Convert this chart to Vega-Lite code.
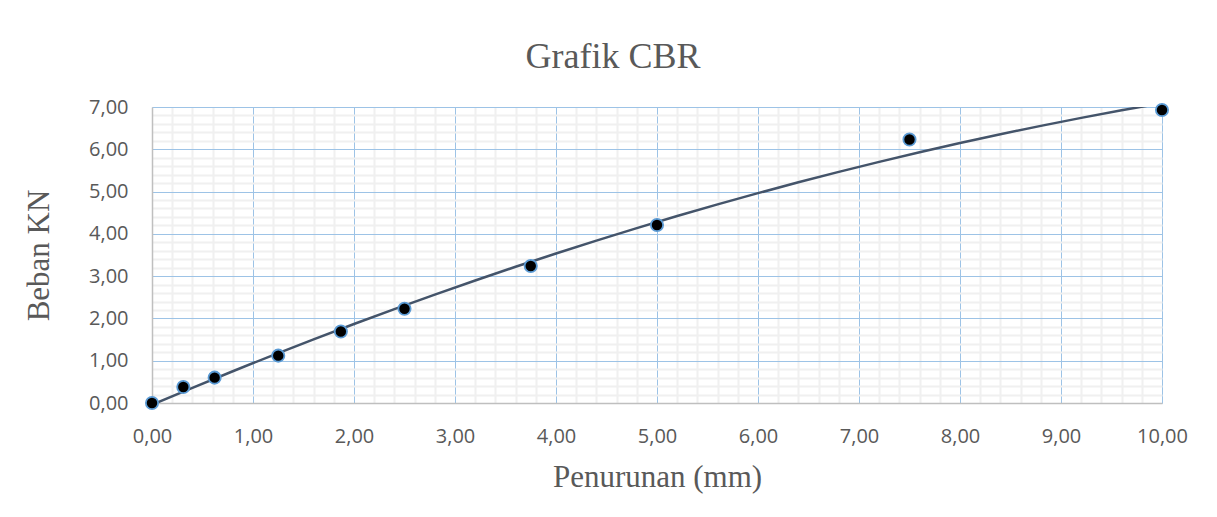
{
  "$schema": "https://vega.github.io/schema/vega-lite/v6.json",
  "width": 1010,
  "height": 296,
  "autosize": "none",
  "padding": {"left": 152, "top": 107, "right": 55, "bottom": 114},
  "background": "white",
  "config": {
    "view": {"stroke": null},
    "axis": {"labelFont": "Open Sans", "labelFontSize": 20, "labelColor": "#595959", "titleFont": "Liberation Serif", "titleFontSize": 31, "titleFontWeight": "normal", "titleColor": "#595959", "ticks": false, "domainColor": "#BFBFBF", "domainWidth": 1.5}
  },
  "title": {"text": "Grafik CBR", "font": "Liberation Serif", "fontSize": 36, "fontWeight": "normal", "color": "#595959", "anchor": "middle", "frame": "group", "dx": -44, "baseline": "alphabetic", "offset": -7},
  "data": {"values": [
    {"Penurunan": 0.0, "Beban": 0.0},
    {"Penurunan": 0.31, "Beban": 0.38},
    {"Penurunan": 0.62, "Beban": 0.6},
    {"Penurunan": 1.25, "Beban": 1.12},
    {"Penurunan": 1.87, "Beban": 1.69},
    {"Penurunan": 2.5, "Beban": 2.23},
    {"Penurunan": 3.75, "Beban": 3.24},
    {"Penurunan": 5.0, "Beban": 4.21},
    {"Penurunan": 7.5, "Beban": 6.23},
    {"Penurunan": 10.0, "Beban": 6.93}
  ]},
  "encoding": {
    "x": {"field": "Penurunan", "type": "quantitative",
      "scale": {"domain": [0, 10], "nice": false, "zero": false},
      "axis": {"title": "Penurunan (mm)", "titleY": 83, "titleBaseline": "alphabetic",
        "labelBaseline": "alphabetic", "labelPadding": 39, "labelFlush": false,
        "values": [0,0.2,0.4,0.6,0.8,1,1.2,1.4,1.6,1.8,2,2.2,2.4,2.6,2.8,3,3.2,3.4,3.6,3.8,4,4.2,4.4,4.6,4.8,5,5.2,5.4,5.6,5.8,6,6.2,6.4,6.6,6.8,7,7.2,7.4,7.6,7.8,8,8.2,8.4,8.6,8.8,9,9.2,9.4,9.6,9.8,10],
        "labelExpr": "abs(datum.value - round(datum.value)) < 1e-6 ? replace(format(datum.value, '.2f'), '.', ',') : ''",
        "grid": true,
        "gridColor": {"condition": {"test": "abs(datum.value - round(datum.value)) < 1e-6", "value": "#9DC3E6"}, "value": "#F0F0F0"},
        "gridWidth": {"condition": {"test": "abs(datum.value - round(datum.value)) < 1e-6", "value": 1}, "value": 2}
      }
    },
    "y": {"field": "Beban", "type": "quantitative",
      "scale": {"domain": [0, 7], "nice": false, "zero": false},
      "axis": {"title": "Beban KN", "titleX": -104, "titleBaseline": "alphabetic",
        "labelPadding": 24, "labelFlush": false,
        "values": [0,0.2,0.4,0.6,0.8,1,1.2,1.4,1.6,1.8,2,2.2,2.4,2.6,2.8,3,3.2,3.4,3.6,3.8,4,4.2,4.4,4.6,4.8,5,5.2,5.4,5.6,5.8,6,6.2,6.4,6.6,6.8,7],
        "labelExpr": "abs(datum.value - round(datum.value)) < 1e-6 ? replace(format(datum.value, '.2f'), '.', ',') : ''",
        "grid": true,
        "gridColor": {"condition": {"test": "abs(datum.value - round(datum.value)) < 1e-6", "value": "#9DC3E6"}, "value": "#F0F0F0"},
        "gridWidth": {"condition": {"test": "abs(datum.value - round(datum.value)) < 1e-6", "value": 1}, "value": 2}
      }
    }
  },
  "layer": [
    {
      "transform": [{"regression": "Beban", "on": "Penurunan", "method": "poly", "order": 2, "extent": [0, 10]}],
      "mark": {"type": "line", "color": "#44546A", "strokeWidth": 2.5, "clip": true}
    },
    {
      "mark": {"type": "point", "shape": "circle", "filled": true, "fill": "#000000", "stroke": "#5B9BD5", "strokeWidth": 1.8, "size": 150, "opacity": 1}
    }
  ]
}
